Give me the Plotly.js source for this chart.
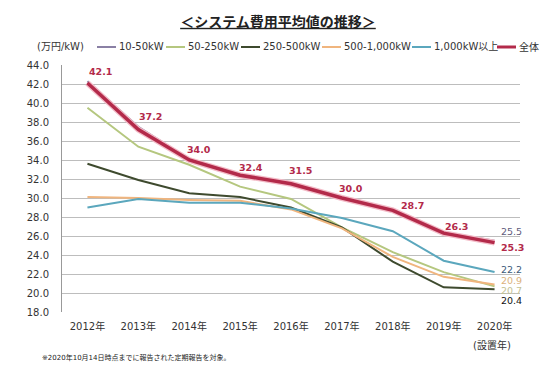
<!DOCTYPE html>
<html><head><meta charset="utf-8">
<script src="https://cdn.plot.ly/plotly-3.0.1.min.js"></script>
<style>html,body{margin:0;padding:0;background:#fff}</style>
</head><body>
<div id="chart" style="width:544px;height:378px"></div>
<script>
const years = ['2012年','2013年','2014年','2015年','2016年','2017年','2018年','2019年','2020年'];
const s10_50 = [42.3, 37.5, 34.1, 32.5, 31.6, 30.1, 28.8, 26.4, 25.5];
const s50_250 = [39.5, 35.4, 33.5, 31.2, 29.9, 26.9, 24.3, 22.2, 20.7];
const s250_500 = [33.6, 31.9, 30.5, 30.1, 29.0, 26.9, 23.3, 20.6, 20.4];
const s500_1000 = [30.1, 30.0, 29.8, 29.7, 28.8, 26.8, 23.8, 21.7, 20.9];
const s1000 = [29.0, 29.9, 29.5, 29.5, 28.9, 27.9, 26.5, 23.4, 22.2];
const total = [42.1, 37.2, 34.0, 32.4, 31.5, 30.0, 28.7, 26.3, 25.3];
const names = ['10-50kW','50-250kW','250-500kW','500-1,000kW','1,000kW以上','全体'];

const F = 'DejaVu Sans, Noto Sans CJK JP, sans-serif';
const colors = ['#8a80a4', '#b5c77f', '#3e4a2e', '#f0b57e', '#5ba7bd', '#b32a4a'];
const last = years[years.length-1];
const n = years.length - 1;

// plot area geometry (pixels) used to place the hand-made legend
const W = 544, H = 378, ML = 62, MR = 24, MT = 65, MB = 66;
const pw = W - ML - MR, ph = H - MT - MB;
const px2x = p => (p - ML) / pw;
const py2y = p => (H - MB - p) / ph;

const series = [s10_50, s50_250, s250_500, s500_1000, s1000];
const traces = series.map((s, i) => ({
  x: years, y: s, name: names[i], mode:'lines', showlegend:false,
  line:{color:colors[i], width:2}
}));
traces.push({x: years, y: total, name: names[5], mode:'lines', showlegend:false, hoverinfo:'skip',
  line:{color:'#f3bcc8', width:6}});
traces.push({x: years, y: total, name: names[5], mode:'lines', showlegend:false,
  line:{color:colors[5], width:3.5}});

const annotations = [];
// data labels of 全体 (offsets in pixels, layout only)
const lblDx = [0, -1, -4, -3, -4, -5, 6, -1];
const lblDy = [12, 13, 11, 8, 13, 10, 5, 7];
total.forEach((v, i) => {
  if (i >= n) return;
  annotations.push({x: years[i], y: v, xref:'x', yref:'y', text:'<b>'+v.toFixed(1)+'</b>',
    showarrow:false, xanchor:'left', yanchor:'middle', xshift: lblDx[i], yshift: lblDy[i],
    font:{family:F, size:9.5, color:'#b32a4a'}});
});

const endLabels = [
  {v: s10_50[n], c:'#5f5c7c', dy: 9, b:false},
  {v: total[n], c:'#b32a4a', dy: -5, b:true},
  {v: s1000[n], c:'#3d5a78', dy: 3, b:false},
  {v: s500_1000[n], c:'#dcb27c', dy: 4, b:false},
  {v: s50_250[n], c:'#c4c292', dy: -4, b:false},
  {v: s250_500[n], c:'#111111', dy: -11, b:false}
];
endLabels.forEach(e => annotations.push({
  x: last, y: e.v, xref:'x', yref:'y', text: e.b ? '<b>'+e.v.toFixed(1)+'</b>' : e.v.toFixed(1),
  showarrow:false, xanchor:'left', yanchor:'middle', xshift:4, yshift:e.dy,
  font:{family:F, size:9.5, color:e.c}
}));

// hand-made legend (Plotly's own legend cannot fit in one row at this width)
const legTextX = [117, 186, 261, 342, 432, 517];
const legY = 47;
const shapes = [];
names.forEach((nm, i) => {
  shapes.push({type:'line', xref:'paper', yref:'paper',
    x0: px2x(legTextX[i]-20), x1: px2x(legTextX[i]-1), y0: py2y(legY), y1: py2y(legY),
    line:{color:colors[i], width: i===5 ? 3 : 2}});
  annotations.push({xref:'paper', yref:'paper', x: px2x(legTextX[i]), y: py2y(legY),
    xanchor:'left', yanchor:'middle', text: nm, showarrow:false,
    font:{family:F, size:10, color:'#333'}});
});

annotations.push({xref:'paper', yref:'paper', x:px2x(35), y:py2y(legY), xanchor:'left', yanchor:'middle',
  text:'(万円/kW)', showarrow:false, font:{family:F, size:10, color:'#333'}});
annotations.push({xref:'paper', yref:'paper', x:px2x(513), y:py2y(345), xanchor:'right', yanchor:'middle',
  text:'(設置年)', showarrow:false, font:{family:F, size:10, color:'#333'}});
annotations.push({xref:'paper', yref:'paper', x:px2x(40), y:py2y(357), xanchor:'left', yanchor:'middle',
  text:'※2020年10月14日時点までに報告された定期報告を対象。', showarrow:false, font:{family:F, size:7, color:'#222'}});

const layout = {
  width:W, height:H,
  margin:{l:ML, r:MR, t:MT, b:MB},
  paper_bgcolor:'#fff', plot_bgcolor:'#fff',
  font:{family:F, size:10, color:'#333'},
  title:{text:'<b><u>＜システム費用平均値の推移＞</u></b>', x:0.511, xanchor:'center', xref:'container',
    y:0.942, yanchor:'middle', font:{family:'Noto Sans CJK JP, sans-serif', size:14, color:'#222'}},
  showlegend:false,
  xaxis:{type:'category', range:[-0.5, years.length-0.5], autorange:false,
    showgrid:false, showline:false, zeroline:false, ticks:'',
    tickfont:{family:F, size:10, color:'#333'}, ticklabelstandoff:7},
  yaxis:{range:[18,44], dtick:2, tick0:18, tickformat:'.1f', showgrid:true, gridcolor:'#bdbdbd', gridwidth:1,
    showline:true, linecolor:'#999', zeroline:false, ticks:'', ticklabelstandoff:10,
    tickfont:{family:F, size:10, color:'#333'}},
  shapes: shapes,
  annotations: annotations
};

Plotly.newPlot('chart', traces, layout, {displayModeBar:false, staticPlot:true});
</script>
</body></html>
